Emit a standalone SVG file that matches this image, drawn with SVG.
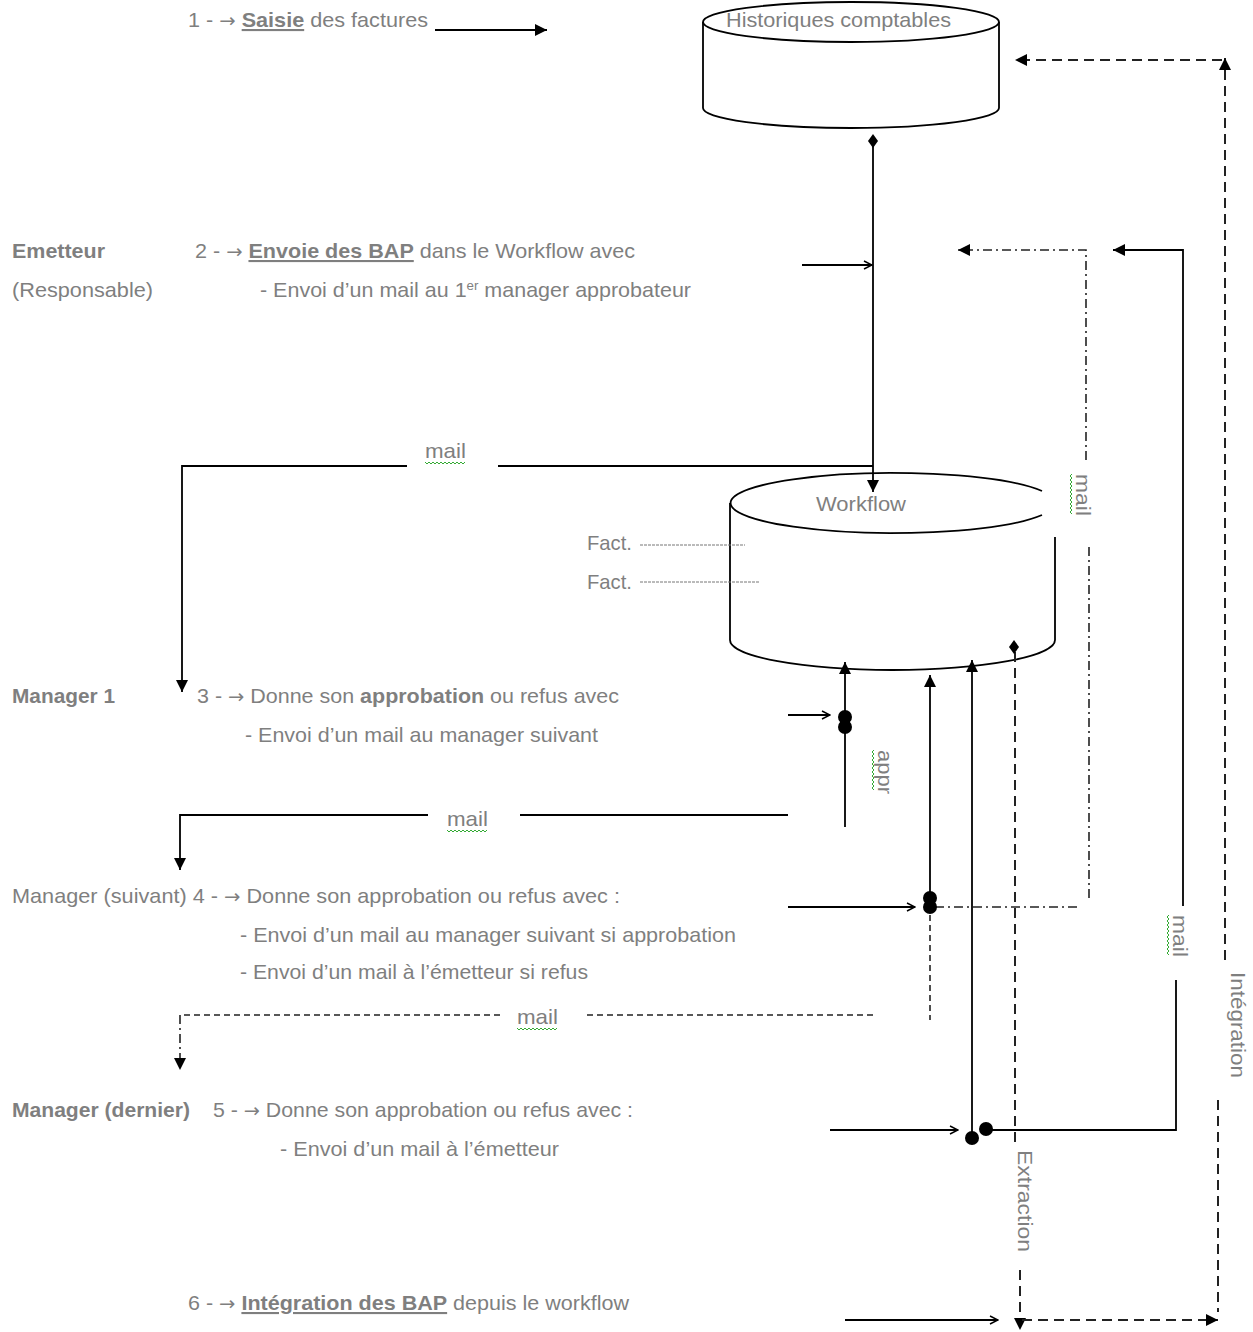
<svg xmlns="http://www.w3.org/2000/svg" width="1253" height="1332" viewBox="0 0 1253 1332">
<style>
.t{font-family:"Liberation Sans",Arial,sans-serif;font-size:21px;fill:#7f7f7f}
.b{font-weight:bold}
.u{text-decoration:underline}
.ar{font-family:"DejaVu Sans",sans-serif;font-size:19px}
.s{fill:none;stroke:#000;stroke-width:1.8}
.d{fill:none;stroke:#222;stroke-width:2;stroke-dasharray:10,6}
.dd{fill:none;stroke:#222;stroke-width:1.6;stroke-dasharray:9,4,2,4}
.m{fill:none;stroke:#222;stroke-width:1.6;stroke-dasharray:6,4}
.f{fill:none;stroke:#777;stroke-width:1;stroke-dasharray:3,1}
.cyl{fill:none;stroke:#000;stroke-width:1.8}
.sq{fill:none;stroke:#3a3;stroke-width:1}
.dot{fill:#000}
</style>
<defs>
<marker id="tri" viewBox="0 0 10 10" refX="10" refY="5" markerUnits="userSpaceOnUse" markerWidth="13" markerHeight="12" orient="auto"><path d="M0,0 L10,5 L0,10 z" fill="#000"/></marker>
<marker id="opn" viewBox="0 0 10 10" refX="9" refY="5" markerUnits="userSpaceOnUse" markerWidth="10" markerHeight="10" orient="auto"><path d="M1,1 L9,5 L1,9" fill="none" stroke="#000" stroke-width="1.5"/></marker>
<path id="wave" d="M0,0 l2,2 l2,-2 l2,2 l2,-2 l2,2 l2,-2 l2,2 l2,-2 l2,2 l2,-2 l2,2 l2,-2 l2,2 l2,-2 l2,2 l2,-2 l2,2 l2,-2 l2,2 l2,-2"/>
</defs>

<g id="historiques">
<ellipse class="cyl" cx="851" cy="22" rx="148" ry="20" fill="#fff"/>
<path class="cyl" d="M703,22 V108 A148,20 0 0 0 999,108 V22"/>
<text class="t" x="726" y="27" textLength="225" lengthAdjust="spacingAndGlyphs">Historiques comptables</text>
</g>

<g id="workflow">
<path class="cyl" d="M1042,491 A162.5,30 0 1 0 1042,515"/>
<path class="cyl" d="M730,503 V640 A162.5,30 0 0 0 1055,640 V537"/>
<text class="t" x="816" y="511" textLength="90" lengthAdjust="spacingAndGlyphs">Workflow</text>
<text class="t" x="587" y="550" textLength="45" lengthAdjust="spacingAndGlyphs">Fact.</text>
<path class="f" d="M640,545 H745"/>
<text class="t" x="587" y="589" textLength="45" lengthAdjust="spacingAndGlyphs">Fact.</text>
<path class="f" d="M640,582 H760"/>
</g>

<g id="step1">
<text class="t" x="188" y="27" textLength="240" lengthAdjust="spacingAndGlyphs">1 - <tspan class="ar">→</tspan> <tspan class="b u">Saisie</tspan> des factures</text>
</g>

<g id="emetteur">
<text class="t b" x="12" y="258" textLength="93" lengthAdjust="spacingAndGlyphs">Emetteur</text>
<text class="t" x="12" y="297" textLength="141" lengthAdjust="spacingAndGlyphs">(Responsable)</text>
<text class="t" x="195" y="258" textLength="440" lengthAdjust="spacingAndGlyphs">2 - <tspan class="ar">→</tspan> <tspan class="b u">Envoie des BAP</tspan> dans le Workflow avec</text>
<text class="t" x="260" y="297" textLength="431" lengthAdjust="spacingAndGlyphs">- Envoi d’un mail au 1<tspan dy="-7" font-size="13">er</tspan><tspan dy="7"> manager approbateur</tspan></text>
</g>

<g id="manager1">
<text class="t b" x="12" y="703" textLength="103" lengthAdjust="spacingAndGlyphs">Manager 1</text>
<text class="t" x="197" y="703" textLength="422" lengthAdjust="spacingAndGlyphs">3 - <tspan class="ar">→</tspan> Donne son <tspan class="b">approbation</tspan>  ou refus avec</text>
<text class="t" x="245" y="742" textLength="353" lengthAdjust="spacingAndGlyphs">- Envoi d’un mail au manager suivant</text>
</g>

<g id="manager-suivant">
<text class="t" x="12" y="903" textLength="608" lengthAdjust="spacingAndGlyphs">Manager (suivant)  4 - <tspan class="ar">→</tspan> Donne son approbation ou refus avec :</text>
<text class="t" x="240" y="942" textLength="496" lengthAdjust="spacingAndGlyphs">- Envoi d’un mail au manager suivant  si approbation</text>
<text class="t" x="240" y="979" textLength="348" lengthAdjust="spacingAndGlyphs">- Envoi d’un mail à l’émetteur si refus</text>
</g>

<g id="manager-dernier">
<text class="t b" x="12" y="1117" textLength="178" lengthAdjust="spacingAndGlyphs">Manager (dernier)</text>
<text class="t" x="213" y="1117" textLength="420" lengthAdjust="spacingAndGlyphs">5 - <tspan class="ar">→</tspan> Donne son approbation ou refus avec :</text>
<text class="t" x="280" y="1156" textLength="279" lengthAdjust="spacingAndGlyphs">- Envoi d’un mail à l’émetteur</text>
</g>

<g id="step6">
<text class="t" x="188" y="1310" textLength="441" lengthAdjust="spacingAndGlyphs">6 - <tspan class="ar">→</tspan> <tspan class="b u">Intégration des BAP</tspan> depuis le workflow</text>
</g>

<g id="connectors">
<path class="s" d="M435,30 H547" marker-end="url(#tri)"/>
<path class="s" d="M873,141 V492" marker-end="url(#tri)"/>
<polygon points="873,134 878,141 873,148 868,141" fill="#000"/>
<path class="s" d="M802,265 H872" marker-end="url(#opn)"/>

<path class="dd" d="M1086,460 V250 H958" marker-end="url(#tri)"/>
<path class="dd" d="M935,907 H1080"/>
<path class="dd" d="M1089,898 V545"/>

<path class="s" d="M1183,906 V250 H1113" marker-end="url(#tri)"/>
<path class="s" d="M1176,980 V1130 H986"/>

<path class="s" d="M873,466 H498"/>
<path class="s" d="M407,466 H182 V692" marker-end="url(#tri)"/>

<path class="s" d="M788,715 H830" marker-end="url(#opn)"/>
<path class="s" d="M845,827 V662" marker-end="url(#tri)"/>
<circle class="dot" cx="845" cy="717" r="7"/>
<circle class="dot" cx="845" cy="727" r="7"/>

<path class="s" d="M788,815 H520"/>
<path class="s" d="M428,815 H180 V870" marker-end="url(#tri)"/>

<path class="s" d="M788,907 H915" marker-end="url(#opn)"/>
<path class="s" d="M930,895 V675" marker-end="url(#tri)"/>
<path class="m" d="M930,915 V1020"/>
<circle class="dot" cx="930" cy="898" r="7"/>
<circle class="dot" cx="930" cy="907" r="7"/>

<path class="m" d="M873,1015 H583"/>
<path class="m" d="M500,1015 H180"/>
<path class="dd" d="M180,1015 V1070" marker-end="url(#tri)"/>

<path class="s" d="M972,1138 V660" marker-end="url(#tri)"/>
<path class="s" d="M830,1130 H958" marker-end="url(#opn)"/>
<circle class="dot" cx="972" cy="1138" r="7"/>
<circle class="dot" cx="986" cy="1129" r="7"/>

<path class="d" d="M1015,652 V1145"/>
<polygon points="1014,640 1019,647 1014,654 1009,647" fill="#000"/>
<path class="d" d="M1020,1270 V1330" marker-end="url(#tri)"/>
<path class="d" d="M1022,1320 H1218" marker-end="url(#tri)"/>
<path class="d" d="M1218,1100 V1312"/>
<path class="d" d="M1225,960 V58" marker-end="url(#tri)"/>
<path class="d" d="M1222,60 H1015" marker-end="url(#tri)"/>

<path class="s" d="M845,1320 H998" marker-end="url(#opn)"/>
</g>

<g id="labels">
<text class="t" x="425" y="458" textLength="41" lengthAdjust="spacingAndGlyphs">mail</text>
<use href="#wave" class="sq" x="425" y="462"/>
<text class="t" x="447" y="826" textLength="41" lengthAdjust="spacingAndGlyphs">mail</text>
<use href="#wave" class="sq" x="447" y="830"/>
<text class="t" x="517" y="1024" textLength="41" lengthAdjust="spacingAndGlyphs">mail</text>
<use href="#wave" class="sq" x="517" y="1028"/>
<g transform="translate(1076,474) rotate(90)">
<text class="t" x="0" y="0" textLength="42" lengthAdjust="spacingAndGlyphs">mail</text>
<use href="#wave" class="sq" x="0" y="4"/>
</g>
<g transform="translate(878,750) rotate(90)">
<text class="t" x="0" y="0" textLength="44" lengthAdjust="spacingAndGlyphs">appr</text>
<use href="#wave" class="sq" x="0" y="4"/>
</g>
<g transform="translate(1173,915) rotate(90)">
<text class="t" x="0" y="0" textLength="42" lengthAdjust="spacingAndGlyphs">mail</text>
<use href="#wave" class="sq" x="0" y="4"/>
</g>
<g transform="translate(1018,1150) rotate(90)">
<text class="t" x="0" y="0" textLength="102" lengthAdjust="spacingAndGlyphs">Extraction</text>
</g>
<g transform="translate(1231,972) rotate(90)">
<text class="t" x="0" y="0" textLength="106" lengthAdjust="spacingAndGlyphs">Intégration</text>
</g>
</g>
</svg>
